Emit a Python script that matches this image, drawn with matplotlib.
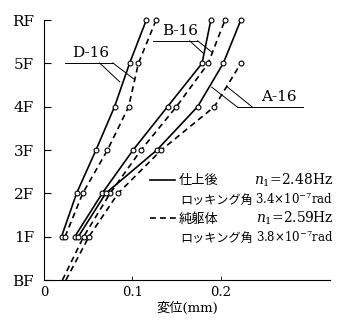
import numpy as np
import matplotlib
matplotlib.use('Agg')
import matplotlib.pyplot as plt

plt.rcParams['font.family'] = ['DejaVu Serif', 'Noto Sans CJK JP']
plt.rcParams['mathtext.fontset'] = 'dejavuserif'

# floor levels (BF=0 ... RF=6)
floor_labels = ['BF', '1F', '2F', '3F', '4F', '5F', 'RF']

# displacement (mm)
d_floors = [1, 2, 3, 4, 5, 6]
d_solid = [0.020, 0.037, 0.059, 0.080, 0.097, 0.116]
d_dash = [0.024, 0.044, 0.072, 0.096, 0.107, 0.127]

b_solid_floors = [1, 2, 3, 4, 5, 6]
b_solid = [0.035, 0.066, 0.101, 0.140, 0.179, 0.189]
b_dash_floors = [0, 1, 2, 3, 4, 5, 6]
b_dash = [0.021, 0.045, 0.075, 0.110, 0.150, 0.186, 0.205]

a_solid_floors = [1, 2, 3, 4, 5, 6]
a_solid = [0.039, 0.070, 0.128, 0.174, 0.203, 0.223]
a_dash_floors = [0, 1, 2, 3, 4, 5]
a_dash = [0.025, 0.051, 0.084, 0.133, 0.193, 0.223]

x_ticks = [0, 0.1, 0.2]
x_ticklabels = ['0', '0.1', '0.2']

fig = plt.figure(figsize=(3.4, 3.2), dpi=100)
ax = fig.add_axes([0.129, 0.125, 0.842, 0.8125])

dash = (0, (3.5, 2.5))
mk = dict(marker='o', ms=3.5, mfc='white', mec='k', mew=0.8, color='k', lw=1.2, clip_on=False)

ax.plot(d_solid, d_floors, ls='-', **mk)
ax.plot(d_dash, d_floors, ls=dash, **mk)
ax.plot(b_solid, b_solid_floors, ls='-', **mk)
ax.plot(b_dash, b_dash_floors, ls=dash, markevery=slice(1, None), **mk)
ax.plot(a_solid, a_solid_floors, ls='-', **mk)
ax.plot(a_dash, a_dash_floors, ls=dash, markevery=slice(1, None), **mk)

# leader lines and labels
lw_l = 0.7
ax.plot([0.024, 0.078], [5.01, 5.01], color='k', lw=lw_l)
ax.plot([0.063, 0.086], [5.01, 4.57], color='k', lw=lw_l)
ax.plot([0.078, 0.103], [5.01, 4.62], color='k', lw=lw_l)
ax.text(0.053, 5.08, 'D-16', ha='center', va='bottom', fontsize=11)

ax.plot([0.123, 0.174], [5.52, 5.52], color='k', lw=lw_l)
ax.plot([0.165, 0.180], [5.52, 5.24], color='k', lw=lw_l)
ax.plot([0.174, 0.190], [5.52, 5.26], color='k', lw=lw_l)
ax.text(0.154, 5.59, 'B-16', ha='center', va='bottom', fontsize=11)

ax.plot([0.219, 0.293], [3.99, 3.99], color='k', lw=lw_l)
ax.plot([0.219, 0.190], [3.99, 4.45], color='k', lw=lw_l)
ax.plot([0.236, 0.208], [3.99, 4.45], color='k', lw=lw_l)
ax.text(0.266, 4.06, 'A-16', ha='center', va='bottom', fontsize=11)

# legend drawn by hand
tr = ax.transAxes
rows = [0.385, 0.308, 0.238, 0.162]
off = 0.017
ax.plot([0.371, 0.458], [rows[0], rows[0]], color='k', lw=1.2, transform=tr)
ax.plot([0.371, 0.465], [rows[2], rows[2]], color='k', lw=1.2, ls=dash, transform=tr)
ax.text(0.472, rows[0] - off, '仕上後', fontsize=9.5, va='baseline', transform=tr)
ax.text(1.01, rows[0] - off, r'$n_1$=2.48Hz', fontsize=10, va='baseline', ha='right', transform=tr)
ax.text(0.476, rows[1] - off, 'ロッキング角', fontsize=8.7, va='baseline', transform=tr)
ax.text(1.01, rows[1] - off, '3.4×10$^{-7}$rad', fontsize=8.5, va='baseline', ha='right', transform=tr)
ax.text(0.472, rows[2] - off, '純躯体', fontsize=9.5, va='baseline', transform=tr)
ax.text(1.01, rows[2] - off, r'$n_1$=2.59Hz', fontsize=10, va='baseline', ha='right', transform=tr)
ax.text(0.476, rows[3] - off, 'ロッキング角', fontsize=8.7, va='baseline', transform=tr)
ax.text(1.01, rows[3] - off, '3.8×10$^{-7}$rad', fontsize=8.5, va='baseline', ha='right', transform=tr)

ax.set_xlim(0, 0.324)
ax.set_ylim(0, 6)
ax.set_yticks(range(len(floor_labels)))
ax.set_yticklabels(floor_labels, fontsize=11)
ax.set_xticks(x_ticks)
ax.set_xticklabels(x_ticklabels, fontsize=9.5)
ax.tick_params(axis='y', direction='in', length=5, width=0.8, pad=7)
ax.tick_params(axis='x', direction='in', length=3, width=0.6, pad=4)
ax.spines['top'].set_visible(False)
ax.spines['right'].set_visible(False)
ax.set_xlabel('変位(mm)', fontsize=9.5, labelpad=2)

fig.savefig('out.png', dpi=100)
